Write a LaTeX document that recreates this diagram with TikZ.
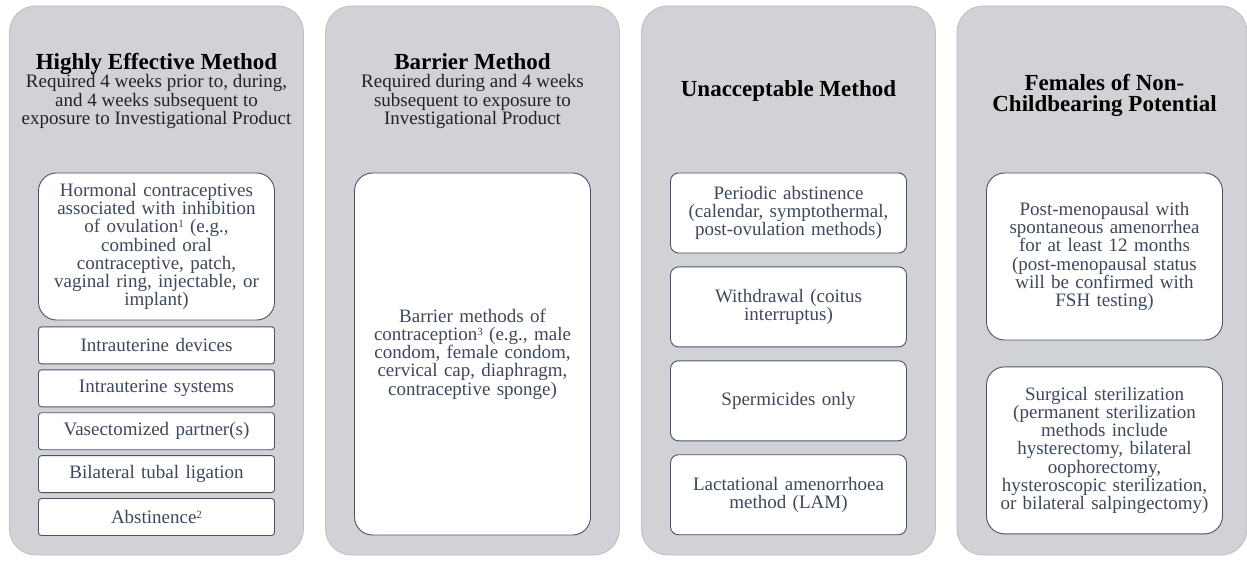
\documentclass[tikz,border=0pt]{standalone}
\usepackage{fontspec}
\setmainfont{Liberation Serif}
\usetikzlibrary{positioning}
\definecolor{pnGray}{RGB}{208,210,214}
\definecolor{pnEdge}{RGB}{188,190,196}
\definecolor{bxEdge}{RGB}{72,84,102}
\definecolor{bxText}{RGB}{62,72,90}
\definecolor{hdText}{RGB}{35,35,35}
\newcommand{\hdtitle}[1]{{\fontsize{23}{24}\selectfont\bfseries\color{black}#1}}
\newcommand{\fnmark}[1]{\raisebox{5pt}{\fontsize{11}{11}\selectfont#1}}
\tikzset{
    base/.style={align=center, inner sep=0pt},
    panel/.style={rectangle, rounded corners=26pt, fill=pnGray, draw=pnEdge,
                  line width=0.8pt, minimum width=294pt, minimum height=549pt},
    heading/.style={base, anchor=north, text=hdText, font=\fontsize{19}{18.5}\selectfont},
    bighead/.style={base, anchor=north, text=black, font=\fontsize{23}{21.5}\selectfont\bfseries},
    card/.style={base, rectangle, draw=bxEdge, line width=0.9pt, fill=white,
                 text=bxText, text width=226pt, minimum width=236pt,
                 font=\fontsize{19}{18.3}\selectfont},
    bigcard/.style={card, rounded corners=18pt},
    midcard/.style={card, rounded corners=8pt, minimum height=80pt},
    smallcard/.style={card, rounded corners=3pt, minimum height=37pt}
}
\begin{document}
\begin{tikzpicture}[x=1pt, y=-1pt]
  \useasboundingbox (0,0) rectangle (1247,561);

  % Gray panels
  \node[panel] (pnHigh) at (156.5,280.5) {};
  \node[panel] (pnBarrier) at (472.5,280.5) {};
  \node[panel] (pnBad) at (788.5,280.5) {};
  \node[panel, minimum width=290pt] (pnNonCb) at (1102,280.5) {};

  % Panel headings
  \node[heading] (hdHigh) at (156.5,53) {\hdtitle{Highly Effective Method}\\
    Required 4 weeks prior to, during,\\and 4 weeks subsequent to\\
    exposure to Investigational Product};
  \node[heading] (hdBarrier) at (472.5,53) {\hdtitle{Barrier Method}\\
    Required during and 4 weeks\\subsequent to exposure to\\Investigational Product};
  \node[bighead] (hdBad) at (788.5,80) {Unacceptable Method};
  \node[bighead] (hdNonCb) at (1104.5,74) {Females of Non-\\Childbearing Potential};

  % Highly effective methods
  \node[bigcard, minimum height=147pt] (hormonal) at (156.5,246.5) {Hormonal contraceptives\\
    associated with inhibition\\of ovulation\fnmark{1} (e.g.,\\combined oral\\
    contraceptive, patch,\\vaginal ring, injectable, or\\implant)};
  \node[smallcard, below=6pt of hormonal] (iud) {Intrauterine devices};
  \node[smallcard, below=5pt of iud] (ius) {Intrauterine systems};
  \node[smallcard, below=5pt of ius] (vasect) {Vasectomized partner(s)};
  \node[smallcard, below=5pt of vasect] (tubal) {Bilateral tubal ligation};
  \node[smallcard, below=5pt of tubal] (abstin) {Abstinence\fnmark{2}};

  % Barrier method
  \node[bigcard, minimum height=362pt] (barrier) at (472.5,354) {Barrier methods of\\
    contraception\fnmark{3} (e.g., male\\condom, female condom,\\
    cervical cap, diaphragm,\\contraceptive sponge)};

  % Unacceptable methods
  \node[midcard] (periodic) at (788.5,213) {Periodic abstinence\\
    (calendar, symptothermal,\\post-ovulation methods)};
  \node[midcard, below=13pt of periodic] (withdraw) {Withdrawal (coitus\\interruptus)};
  \node[midcard, below=13pt of withdraw] (spermi) {Spermicides only};
  \node[midcard, below=13pt of spermi] (lam) {Lactational amenorrhoea\\method (LAM)};

  % Non-childbearing potential
  \node[bigcard, minimum height=167pt] (postmeno) at (1104.5,256.5) {Post-menopausal with\\
    spontaneous amenorrhea\\for at least 12 months\\(post-menopausal status\\
    will be confirmed with\\FSH testing)};
  \node[bigcard, minimum height=167pt, below=26pt of postmeno] (surgical) {Surgical sterilization\\
    (permanent sterilization\\methods include\\hysterectomy, bilateral\\oophorectomy,\\
    hysteroscopic sterilization,\\or bilateral salpingectomy)};
\end{tikzpicture}
\end{document}
